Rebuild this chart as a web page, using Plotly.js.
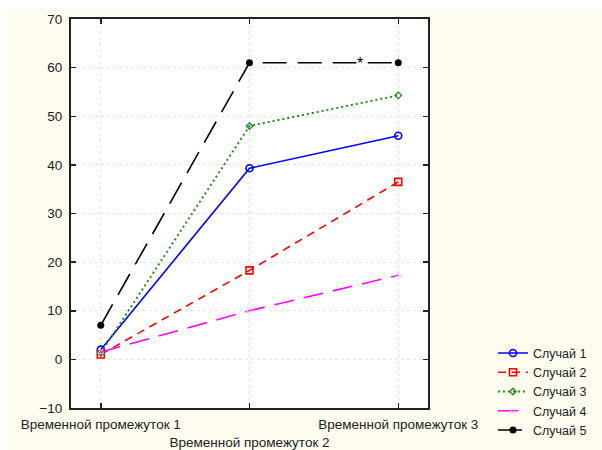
<!DOCTYPE html>
<html>
<head>
<meta charset="utf-8">
<script src="https://cdn.plot.ly/plotly-3.0.1.min.js"></script>
<style>
html,body{margin:0;padding:0;background:#ffffff;}
#bg{position:absolute;left:8px;top:8px;width:594px;height:442px;background:#fdfcef;}
#chart{position:absolute;left:0;top:0;width:602px;height:450px;}
</style>
</head>
<body>
<div id="bg"></div>
<div id="chart"></div>
<script>
const categories = ["Временной промежуток 1", "Временной промежуток 2", "Временной промежуток 3"];
const seriesNames = ["Случай 1", "Случай 2", "Случай 3", "Случай 4", "Случай 5"];
const case1 = [2, 39.3, 46];
const case2 = [1, 18.3, 36.5];
const case3 = [1.3, 48, 54.3];
const case4 = [1.5, 10, 17.3];
const case5 = [7, 61, 61];
const starLabel = "*";

const font = "Arial, 'Liberation Sans', sans-serif";

const traces = [
  {y: case1, name: seriesNames[0], line: {color: '#0000ff', width: 1.6, dash: 'solid'},
   marker: {symbol: 'circle-open', size: 7, color: '#0000ff', line: {width: 1.6}}},
  {y: case2, name: seriesNames[1], line: {color: '#ff0000', width: 1.6, dash: '8px,6px'},
   marker: {symbol: 'square-open', size: 7, color: '#ff0000', line: {width: 1.6}}},
  {y: case3, name: seriesNames[2], line: {color: '#228b22', width: 2, dash: '2px,3px'},
   marker: {symbol: 'diamond-open', size: 5, color: '#228b22', line: {width: 1.3}}},
  {y: case4, name: seriesNames[3], line: {color: '#ff00ff', width: 1.6, dash: '20px,10px'},
   marker: {symbol: 'triangle-up-open', size: 5, color: '#ffbbff', line: {width: 1}}},
  {y: case5, name: seriesNames[4], line: {color: '#000000', width: 1.6, dash: '24px,11px'},
   marker: {symbol: 'circle', size: 7, color: '#000000'}}
].map(t => Object.assign({x: categories, type: 'scatter', mode: 'lines+markers'}, t));

const layout = {
  width: 602, height: 450,
  margin: {l: 71, r: 174, t: 19, b: 42, autoexpand: false},
  paper_bgcolor: 'rgba(0,0,0,0)',
  plot_bgcolor: '#ffffff',
  font: {family: font, size: 13.5, color: '#222222'},
  showlegend: true,
  legend: {x: 1.182, xanchor: 'left', y: -0.096, yanchor: 'bottom',
           bgcolor: 'rgba(0,0,0,0)', font: {family: font, size: 12.5, color: '#222222'},
           itemwidth: 30, tracegroupgap: 0},
  xaxis: {
    type: 'category', range: [-0.2, 2.2], automargin: false, tickangle: 0,
    tickmode: 'array', tickvals: categories,
    ticktext: categories.map((c, i) => i === 1 ? '<br>' + c : c),
    ticks: 'inside', ticklen: 5, tickwidth: 1.5, tickcolor: '#222',
    showline: true, linecolor: '#222', linewidth: 2, mirror: 'ticks',
    showgrid: true, gridcolor: '#e4e4e4', griddash: 'dot', gridwidth: 1,
    zeroline: false, tickfont: {size: 13.5}, ticklabelstandoff: 3
  },
  yaxis: {
    range: [-10, 70], dtick: 10, tick0: 0, automargin: false,
    ticks: 'inside', ticklen: 5, tickwidth: 1.5, tickcolor: '#222',
    showline: true, linecolor: '#222', linewidth: 2, mirror: 'ticks',
    showgrid: true, gridcolor: '#e4e4e4', griddash: 'dot', gridwidth: 1,
    zeroline: false, tickfont: {size: 13.5}, ticklabelstandoff: 4
  },
  annotations: [{x: 1.74, y: 60.8, xref: 'x', yref: 'y', text: starLabel, showarrow: false,
    font: {family: font, size: 16, color: '#000'}, bgcolor: '#ffffff', borderpad: 0}]
};

Plotly.newPlot('chart', traces, layout, {staticPlot: true});
</script>
</body>
</html>
